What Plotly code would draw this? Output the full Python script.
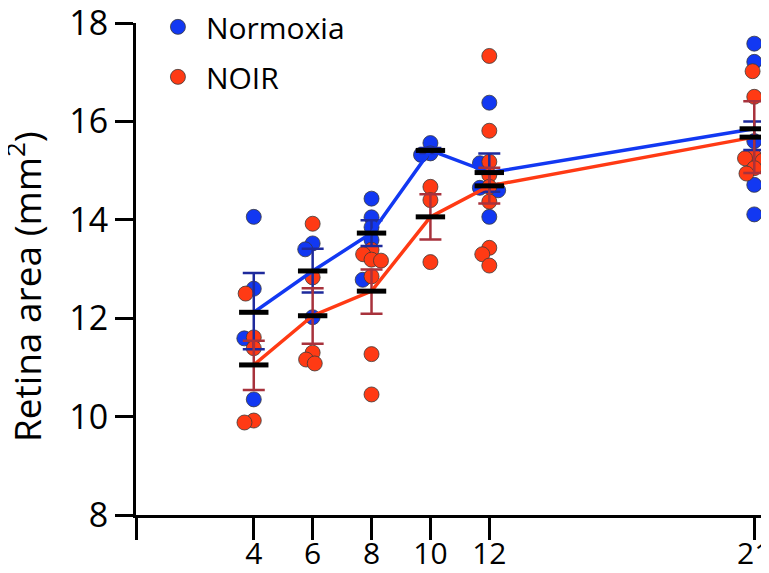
import math
import plotly.graph_objects as go

# ---------------- data ----------------
days = [4, 6, 8, 10, 12, 21]

normoxia_values = [
    [14.06, 12.60, 11.59, 10.35],
    [13.52, 13.40, 12.02],
    [14.43, 14.05, 13.85, 13.59, 12.78],
    [15.56, 15.35, 15.32],
    [16.38, 15.15, 14.65, 14.60, 14.06],
    [17.58, 17.21, 15.60, 14.71, 14.11],
]
noir_values = [
    [12.50, 11.61, 11.39, 9.92, 9.88],
    [13.92, 12.83, 11.30, 11.16, 11.08],
    [13.39, 13.30, 13.19, 13.17, 12.85, 11.27, 10.45],
    [14.67, 14.40, 13.14],
    [17.33, 15.81, 15.18, 14.91, 14.67, 14.37, 13.43, 13.30, 13.07],
    [17.02, 16.50, 15.29, 15.25, 15.20, 15.05, 14.94],
]

normoxia_mean = [12.12, 12.96, 13.73, 15.41, 14.96, 15.85]
normoxia_err_up = [0.80, 0.45, 0.26, 0.05, 0.39, 0.15]
normoxia_err_down = [0.75, 0.44, 0.26, 0.05, 0.39, 0.43]

noir_mean = [11.05, 12.05, 12.55, 14.06, 14.69, 15.68]
noir_err_up = [0.49, 0.56, 0.44, 0.46, 0.37, 0.73]
noir_err_down = [0.51, 0.57, 0.46, 0.46, 0.36, 0.73]

x_tick_vals = [0, 4, 6, 8, 10, 12, 21]
x_tick_text = ["", "4", "6", "8", "10", "12", "21"]
y_tick_vals = [8, 10, 12, 14, 16, 18]

series_names = ["Normoxia", "NOIR"]
y_title = "Retina area (mm<sup>2</sup>)"

# ---------------- style / layout ----------------
# the page body has an 8px margin, so the figure is sized to end at the window edge
W, H = 761, 565
ML, MR, MT, MB = 128, 0, 15, 58
X_RANGE = [0, 21.5]
Y_RANGE = [8, 18]
FONT = "Open Sans"

BLUE = "#1238F2"
RED = "#FF3A14"
BLUE_ERR = "#1E2A9C"
RED_ERR = "#A8323C"
MARKER_SIZE = 15
SEP = 9.5  # px minimum distance between point centres in the swarm

px_per_x = (W - ML - MR) / (X_RANGE[1] - X_RANGE[0])
px_per_y = (H - MT - MB) / (Y_RANGE[1] - Y_RANGE[0])


def swarm_offsets(items):
    """items: list of (series, value). Returns list of (series, value, dx_data)."""
    placed = []
    out = []
    for s, v in sorted(items, key=lambda t: -t[1]):
        y = v * px_per_y
        forb = []
        for (px, py) in placed:
            dy = abs(py - y)
            if dy < SEP:
                h = math.sqrt(SEP ** 2 - dy ** 2)
                forb.append((px - h, px + h))
        cands = [0.0] + [a for a, b in forb] + [b for a, b in forb]
        cands.sort(key=lambda c: (abs(c), c))
        chosen = 0.0
        for c in cands:
            if all(not (a + 1e-6 < c < b - 1e-6) for a, b in forb):
                chosen = c
                break
        placed.append((chosen, y))
        out.append((s, v, chosen / px_per_x))
    return out


pts_x = {0: [], 1: []}
pts_y = {0: [], 1: []}
for i, d in enumerate(days):
    items = [(0, v) for v in normoxia_values[i]] + [(1, v) for v in noir_values[i]]
    for s, v, dx in swarm_offsets(items):
        pts_x[s].append(d + dx)
        pts_y[s].append(v)

fig = go.Figure()

# individual points
for s, col in [(0, BLUE), (1, RED)]:
    fig.add_trace(go.Scatter(
        x=pts_x[s], y=pts_y[s], mode="markers", name=series_names[s],
        legendgroup=series_names[s],
        marker=dict(size=MARKER_SIZE, color=col, line=dict(width=0.8, color="#3a3a3a")),
        cliponaxis=False,
    ))

# mean lines with SEM error bars
for mean, up, down, col, ecol in [
    (normoxia_mean, normoxia_err_up, normoxia_err_down, BLUE, BLUE_ERR),
    (noir_mean, noir_err_up, noir_err_down, RED, RED_ERR),
]:
    fig.add_trace(go.Scatter(
        x=days, y=mean, mode="lines", showlegend=False,
        line=dict(color=col, width=3.5),
        error_y=dict(type="data", symmetric=False, array=up, arrayminus=down,
                     color=ecol, thickness=2.5, width=11),
    ))

# black mean bars
for mean in [normoxia_mean, noir_mean]:
    fig.add_trace(go.Scatter(
        x=days, y=mean, mode="markers", showlegend=False,
        marker=dict(symbol="line-ew", size=21, line=dict(width=5, color="black"), color="black"),
    ))

fig.update_layout(
    width=W, height=H,
    margin=dict(l=ML, r=MR, t=MT, b=MB, autoexpand=False),
    paper_bgcolor="white", plot_bgcolor="white",
    font=dict(family=FONT, color="black"),
    showlegend=True,
    legend=dict(x=0.022, y=1.045, xanchor="left", yanchor="top",
                font=dict(size=30, family=FONT, color="black"),
                tracegroupgap=8, itemwidth=46, bgcolor="rgba(0,0,0,0)"),
    annotations=[dict(
        text=y_title, textangle=-90, xref="paper", yref="paper",
        x=0, y=0.5, xanchor="center", yanchor="middle",
        xshift=-(ML - 16), yshift=-18, showarrow=False,
        font=dict(size=37, family=FONT, color="black"),
    )],
)
fig.update_xaxes(
    range=X_RANGE, tickmode="array", tickvals=x_tick_vals, ticktext=x_tick_text,
    showline=True, linewidth=3, linecolor="black", ticks="outside", ticklen=22,
    tickwidth=3, tickcolor="black", showgrid=False, zeroline=False,
    tickfont=dict(size=30, family=FONT), ticklabelstandoff=-12,
    ticklabeloverflow="allow",
)
fig.update_yaxes(
    range=Y_RANGE, tickmode="array", tickvals=y_tick_vals,
    showline=True, linewidth=3, linecolor="black", ticks="outside", ticklen=18,
    tickwidth=3, tickcolor="black", showgrid=False, zeroline=False,
    tickfont=dict(size=34, family=FONT), ticklabeloverflow="allow",
)

fig.write_html("out.html")
